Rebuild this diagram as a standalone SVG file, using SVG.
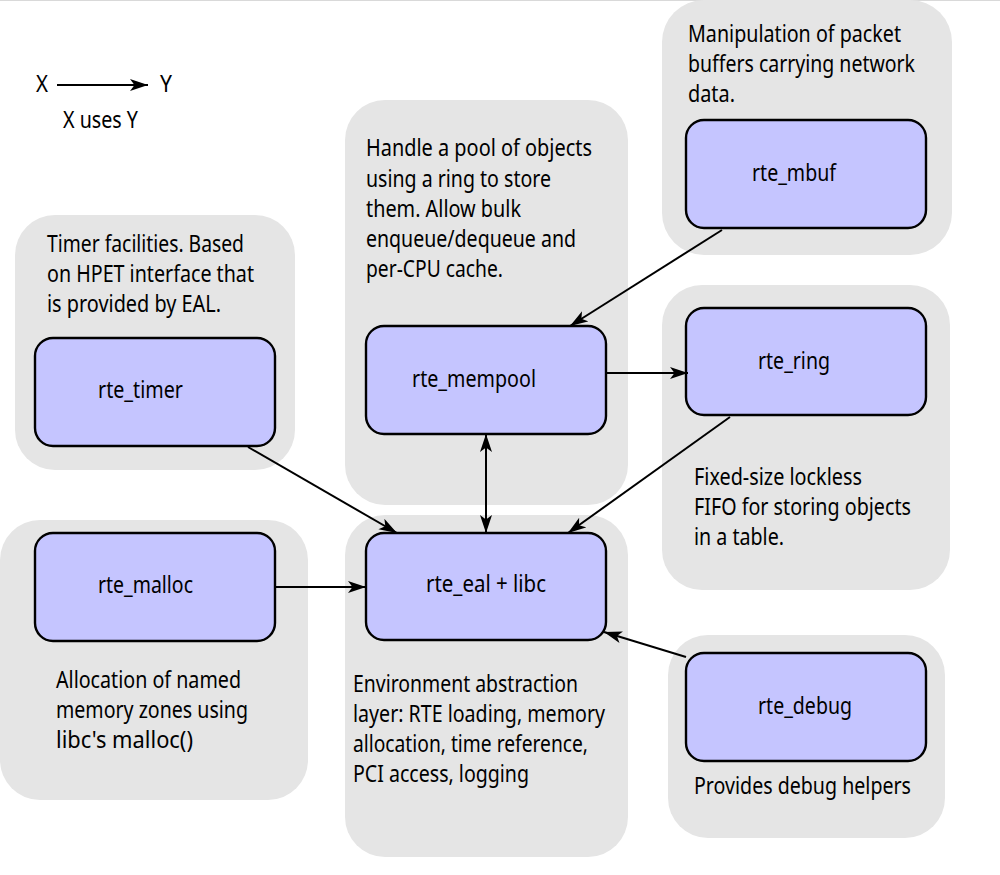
<svg xmlns="http://www.w3.org/2000/svg" width="1000" height="875" viewBox="0 0 1000 875">
<defs>
<marker id="ah" markerUnits="userSpaceOnUse" markerWidth="19" markerHeight="13" refX="18" refY="6.5" orient="auto-start-reverse" viewBox="0 0 19 13">
<path d="M0,0.5 L18,6.5 L0,12.5 L4.5,6.5 z" fill="#000"/>
</marker>
<style>
.panel{fill:#e5e5e5;}
.box{fill:#c5c5ff;stroke:#000;stroke-width:2.4;}
text{font-family:"Noto Sans","Open Sans",sans-serif;font-size:23px;fill:#000;}
.c{stroke:#000;stroke-width:2;fill:none;marker-end:url(#ah);}
</style>
</defs>
<rect width="1000" height="875" fill="#fff"/>
<line x1="0" y1="0.5" x2="1000" y2="0.5" stroke="#d9d9d9" stroke-width="1"/>

<g id="legend">
<text x="36" y="92" textLength="12" lengthAdjust="spacingAndGlyphs">X</text>
<text x="160" y="92" textLength="12" lengthAdjust="spacingAndGlyphs">Y</text>
<line x1="57" y1="85" x2="148" y2="85" class="c"/>
<text x="63" y="128" textLength="75" lengthAdjust="spacingAndGlyphs">X uses Y</text>
</g>

<g id="panel-timer">
<rect class="panel" x="15" y="215" width="280" height="255" rx="40"/>
<text x="47" y="252" textLength="197" lengthAdjust="spacingAndGlyphs">Timer facilities. Based</text>
<text x="47" y="282" textLength="207" lengthAdjust="spacingAndGlyphs">on HPET interface that</text>
<text x="47" y="312" textLength="174" lengthAdjust="spacingAndGlyphs">is provided by EAL.</text>
</g>
<g id="panel-malloc">
<rect class="panel" x="0" y="520" width="308" height="280" rx="40"/>
<text x="56" y="688" textLength="185" lengthAdjust="spacingAndGlyphs">Allocation of named</text>
<text x="56" y="718" textLength="192" lengthAdjust="spacingAndGlyphs">memory zones using</text>
<text x="56" y="748" textLength="137" lengthAdjust="spacingAndGlyphs">libc's malloc()</text>
</g>
<g id="panel-mempool">
<rect class="panel" x="345" y="100" width="283" height="405" rx="40"/>
<text x="366" y="156" textLength="226" lengthAdjust="spacingAndGlyphs">Handle a pool of objects</text>
<text x="366" y="187" textLength="185" lengthAdjust="spacingAndGlyphs">using a ring to store</text>
<text x="366" y="217" textLength="155" lengthAdjust="spacingAndGlyphs">them. Allow bulk</text>
<text x="366" y="247" textLength="210" lengthAdjust="spacingAndGlyphs">enqueue/dequeue and</text>
<text x="366" y="277" textLength="137" lengthAdjust="spacingAndGlyphs">per-CPU cache.</text>
</g>
<g id="panel-eal">
<rect class="panel" x="345" y="515" width="283" height="342" rx="40"/>
<text x="353" y="692" textLength="225" lengthAdjust="spacingAndGlyphs">Environment abstraction</text>
<text x="353" y="722" textLength="252" lengthAdjust="spacingAndGlyphs">layer: RTE loading, memory</text>
<text x="353" y="752" textLength="235" lengthAdjust="spacingAndGlyphs">allocation, time reference,</text>
<text x="353" y="782" textLength="176" lengthAdjust="spacingAndGlyphs">PCI access, logging</text>
</g>
<g id="panel-mbuf">
<rect class="panel" x="662" y="0" width="290" height="255" rx="42"/>
<text x="688" y="42" textLength="213" lengthAdjust="spacingAndGlyphs">Manipulation of packet</text>
<text x="688" y="72" textLength="227" lengthAdjust="spacingAndGlyphs">buffers carrying network</text>
<text x="688" y="102" textLength="47" lengthAdjust="spacingAndGlyphs">data.</text>
</g>
<g id="panel-ring">
<rect class="panel" x="662" y="285" width="288" height="305" rx="40"/>
<text x="694" y="485" textLength="168" lengthAdjust="spacingAndGlyphs">Fixed-size lockless</text>
<text x="694" y="515" textLength="217" lengthAdjust="spacingAndGlyphs">FIFO for storing objects</text>
<text x="694" y="545" textLength="90" lengthAdjust="spacingAndGlyphs">in a table.</text>
</g>
<g id="panel-debug">
<rect class="panel" x="668" y="635" width="277" height="203" rx="40"/>
<text x="694" y="794" textLength="217" lengthAdjust="spacingAndGlyphs">Provides debug helpers</text>
</g>

<g id="rte_timer">
<rect class="box" x="35" y="338" width="240" height="108" rx="18"/>
<text x="98" y="398" textLength="85" lengthAdjust="spacingAndGlyphs">rte_timer</text>
</g>
<g id="rte_malloc">
<rect class="box" x="35" y="533" width="240" height="108" rx="18"/>
<text x="98" y="593" textLength="95" lengthAdjust="spacingAndGlyphs">rte_malloc</text>
</g>
<g id="rte_mempool">
<rect class="box" x="366" y="326" width="240" height="108" rx="18"/>
<text x="412" y="387" textLength="124" lengthAdjust="spacingAndGlyphs">rte_mempool</text>
</g>
<g id="rte_eal">
<rect class="box" x="366" y="533" width="240" height="107" rx="18"/>
<text x="426" y="592" textLength="120" lengthAdjust="spacingAndGlyphs">rte_eal + libc</text>
</g>
<g id="rte_mbuf">
<rect class="box" x="686" y="120" width="240" height="108" rx="18"/>
<text x="752" y="181" textLength="84" lengthAdjust="spacingAndGlyphs">rte_mbuf</text>
</g>
<g id="rte_ring">
<rect class="box" x="686" y="308" width="240" height="107" rx="18"/>
<text x="758" y="369" textLength="72" lengthAdjust="spacingAndGlyphs">rte_ring</text>
</g>
<g id="rte_debug">
<rect class="box" x="686" y="653" width="240" height="108" rx="18"/>
<text x="758" y="714" textLength="94" lengthAdjust="spacingAndGlyphs">rte_debug</text>
</g>

<g id="connectors">
<line class="c" x1="722" y1="230" x2="570" y2="326"/>
<line class="c" x1="606" y1="373" x2="688" y2="373"/>
<line class="c" x1="486" y1="434" x2="486" y2="533" style="marker-start:url(#ah)"/>
<line class="c" x1="248" y1="447" x2="397" y2="533"/>
<line class="c" x1="730" y1="417" x2="568" y2="533"/>
<line class="c" x1="275" y1="587" x2="366" y2="587"/>
<line class="c" x1="686" y1="657" x2="604" y2="632"/>
</g>
</svg>
